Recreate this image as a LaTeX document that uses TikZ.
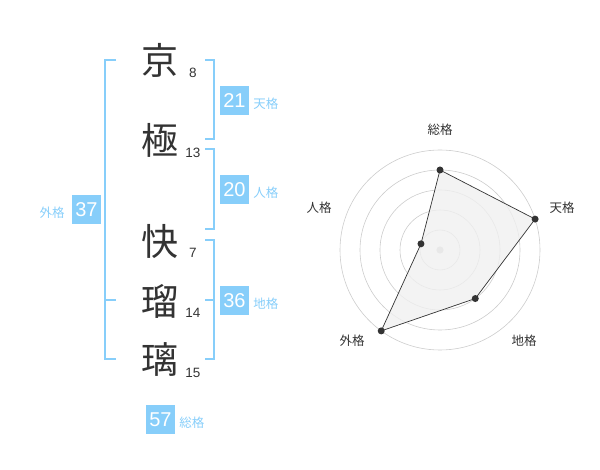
\documentclass[tikz,border=0pt]{standalone}
\usepackage{fontspec}
\setmainfont{Liberation Sans}
\newfontfamily\jpfont{Noto Sans CJK JP}
\usetikzlibrary{positioning,calc}
\definecolor{kakuBlue}{RGB}{135,206,250}
\definecolor{inkGray}{RGB}{51,51,51}
\definecolor{ringGray}{RGB}{204,204,204}
\definecolor{areaGray}{RGB}{240,240,240}

\begin{document}
\begin{tikzpicture}[x=1pt,y=-1pt]
	\useasboundingbox (0,0) rectangle (600,470);
	\begin{scope}
		[
			styleChar/.style={inner sep=0pt, text=inkGray,
				font=\jpfont\fontsize{37}{37}\selectfont},
			styleNum/.style={inner sep=0pt, text=inkGray,
				font=\fontsize{13.5}{14}\selectfont},
			styleBox/.style={fill=kakuBlue, text=white, minimum size=29pt,
				inner sep=0pt, font=\fontsize{20}{20}\selectfont},
			styleKaku/.style={inner sep=0pt, text=kakuBlue, yshift=-3pt,
				font=\jpfont\fontsize{12.5}{13}\selectfont},
			bracket/.style={draw=kakuBlue, line width=1.6pt},
		]
		\node(kyo)[styleChar] at (160,60) {京};
		\node(goku)[styleChar] at (160,140) {極};
		\node(kai)[styleChar] at (160,242) {快};
		\node(ru)[styleChar] at (160,301) {瑠};
		\node(ri)[styleChar] at (160,359) {璃};

		\node(nkyo)[styleNum] at (193,73) {8};
		\node(ngoku)[styleNum] at (193,153) {13};
		\node(nkai)[styleNum] at (193,253) {7};
		\node(nru)[styleNum] at (193,313) {14};
		\node(nri)[styleNum] at (193,373) {15};

		% brackets
		\draw[bracket] (116,60) -- (105,60) -- (105,359) -- (116,359);
		\draw[bracket] (105,300) -- (116,300);
		\draw[bracket] (205,60) -- (214,60) -- (214,139) -- (205,139);
		\draw[bracket] (205,149) -- (214,149) -- (214,229) -- (205,229);
		\draw[bracket] (205,240) -- (214,240) -- (214,359) -- (205,359);
		\draw[bracket] (205,300) -- (214,300);

		\node(ten)[styleBox] at (234.5,100.5) {21};
		\node(lten)[styleKaku, right=4pt of ten] {天格};
		\node(jin)[styleBox] at (234.5,190) {20};
		\node(ljin)[styleKaku, right=4pt of jin] {人格};
		\node(chi)[styleBox] at (234.5,300.5) {36};
		\node(lchi)[styleKaku, right=4pt of chi] {地格};
		\node(gai)[styleBox] at (86.5,210) {37};
		\node(lgai)[styleKaku, left=7pt of gai] {外格};
		\node(sou)[styleBox] at (160.5,419.5) {57};
		\node(lsou)[styleKaku, right=4pt of sou] {総格};
	\end{scope}
	\begin{scope}
		[
			ring/.style={draw=ringGray, line width=0.6pt},
			dot/.style={circle, fill=inkGray, inner sep=0pt, minimum size=7pt},
			axisLbl/.style={inner sep=0pt, text=inkGray,
				font=\jpfont\fontsize{12.5}{13}\selectfont},
		]
		\coordinate (ctr) at (440,250);
		\foreach \r in {20,40,60,80,100}
			\draw[ring] (ctr) circle[radius=\r];
		\fill[ringGray] (ctr) circle[radius=3.6];

		\coordinate (psou) at ($(ctr)+(-90:80)$);
		\coordinate (pten) at ($(ctr)+(-18:100)$);
		\coordinate (pchi) at ($(ctr)+(54:60)$);
		\coordinate (pgai) at ($(ctr)+(126:100)$);
		\coordinate (pjin) at ($(ctr)+(-162:20)$);

		\filldraw[fill=areaGray, fill opacity=0.8, draw=inkGray, line width=0.7pt]
			(psou) -- (pten) -- (pchi) -- (pgai) -- (pjin) -- cycle;
		\foreach \p in {psou,pten,pchi,pgai,pjin}
			\node[dot] at (\p) {};

		\node(asou)[axisLbl] at (440,130) {総格};
		\node(aten)[axisLbl] at (562,208) {天格};
		\node(achi)[axisLbl] at (524,341) {地格};
		\node(agai)[axisLbl] at (352,341) {外格};
		\node(ajin)[axisLbl] at (319,208) {人格};
	\end{scope}
\end{tikzpicture}
\end{document}
